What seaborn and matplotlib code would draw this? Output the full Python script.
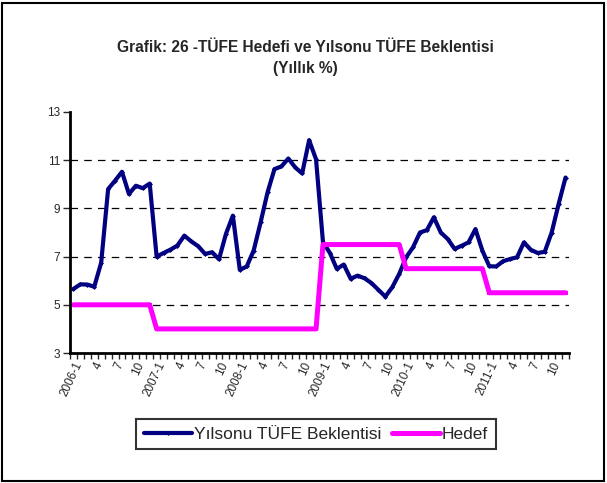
"""TÜFE hedefi ve yılsonu TÜFE beklentisi (yıllık %), 2006-2011."""

import matplotlib
matplotlib.use('Agg')
import matplotlib.pyplot as plt
from matplotlib.patches import Rectangle
import numpy as np
import pandas as pd
import seaborn as sns

years = [2006, 2007, 2008, 2009, 2010, 2011]

# monthly year-end CPI expectation, 2006-1 .. 2011-12
beklenti = [
    5.66, 5.85, 5.84, 5.75, 6.75, 9.80, 10.15, 10.52, 9.60, 9.94, 9.84, 10.03,
    7.00, 7.15, 7.29, 7.46, 7.87, 7.63, 7.43, 7.11, 7.18, 6.89, 7.94, 8.70,
    6.45, 6.59, 7.25, 8.42, 9.66, 10.63, 10.74, 11.07, 10.70, 10.45, 11.83, 11.04,
    7.60, 7.15, 6.49, 6.67, 6.08, 6.21, 6.10, 5.90, 5.62, 5.34, 5.73, 6.28,
    6.97, 7.39, 8.00, 8.10, 8.63, 8.00, 7.73, 7.32, 7.45, 7.59, 8.14, 7.25,
    6.60, 6.59, 6.81, 6.90, 6.97, 7.59, 7.28, 7.15, 7.20, 8.00, 9.18, 10.28,
]
# annual inflation target per year
hedef_yillik = [5.0, 4.0, 4.0, 7.5, 6.5, 5.5]

months = [f"{y}-{m}" for y in years for m in range(1, 13)]
tick_labels = [f"{y}-1" if m == 1 else str(m) for y in years for m in (1, 4, 7, 10)]

df = pd.DataFrame({
    "ay": np.arange(len(months)),
    "Yılsonu TÜFE Beklentisi": beklenti,
    "Hedef": np.repeat(hedef_yillik, 12),
})
long = df.melt(id_vars="ay", var_name="seri", value_name="deger")

sns.set_style("white")
plt.rcParams["font.family"] = ["Liberation Sans", "DejaVu Sans"]

fig = plt.figure(figsize=(6.07, 4.83), dpi=100)
ax = fig.add_axes([70 / 607, 1 - 353 / 483, 499 / 607, 241 / 483])

sns.lineplot(data=long, x="ay", y="deger", hue="seri", style="seri",
             palette={"Yılsonu TÜFE Beklentisi": "#000080", "Hedef": "#FF00FF"},
             markers={"Yılsonu TÜFE Beklentisi": "D", "Hedef": "s"},
             dashes=False, ax=ax, legend=False)
for line, lw in zip(ax.lines, [3.0, 3.6]):
    line.set_linewidth(lw)
    line.set_markersize(2.5)
    line.set_markeredgewidth(0)

ax.set_xlim(-0.5, len(months) - 0.5)
ax.set_ylim(3, 13)
ax.set_yticks([3, 5, 7, 9, 11, 13])
ax.set_xticks(np.arange(0, len(months), 3))
ax.set_xticklabels(tick_labels, rotation=65, ha="right", rotation_mode="anchor", fontsize=8.5)
ax.set_xticks(np.arange(-0.5, len(months)), minor=True)
ax.tick_params(axis="x", which="major", length=0, pad=5)
ax.tick_params(axis="x", which="minor", direction="out", length=4, width=1, bottom=True)
ax.tick_params(axis="y", direction="out", length=5, width=1, left=True, labelsize=8.5, pad=2)
ax.set_xlabel("")
ax.set_ylabel("")

for v in [5, 7, 9, 11]:
    ax.axhline(v, color="black", lw=0.9, ls=(0, (6, 5)), zorder=0)

for s in ["top", "right"]:
    ax.spines[s].set_visible(False)
for s in ["left", "bottom"]:
    ax.spines[s].set_color("black")
    ax.spines[s].set_linewidth(2)

fig.text(0.503, 1 - 48 / 483, "Grafik: 26 -TÜFE Hedefi ve Yılsonu TÜFE Beklentisi",
         ha="center", va="center", fontsize=11.2, fontweight="bold")
fig.text(0.503, 1 - 69 / 483, "(Yıllık %)", ha="center", va="center",
         fontsize=11.2, fontweight="bold")

handles = [
    plt.Line2D([], [], color="#000080", lw=3.0, marker="D", ms=2.5, mew=0),
    plt.Line2D([], [], color="#FF00FF", lw=3.6, marker="s", ms=2.5, mew=0),
]
leg = fig.legend(handles, ["Yılsonu TÜFE Beklentisi", "Hedef"], ncol=2,
                 loc="center", bbox_to_anchor=(316 / 607, 1 - 434 / 483),
                 fontsize=12.5, frameon=True, fancybox=False, handlelength=2.8,
                 handletextpad=0.1, columnspacing=0.6, borderpad=0.45)
leg.get_frame().set_edgecolor("black")
leg.get_frame().set_linewidth(1.5)

fig.add_artist(Rectangle((2 / 607, 2 / 483), 602 / 607, 478 / 483,
                         transform=fig.transFigure, fill=False, lw=1.5, ec="black"))

fig.savefig("out.png", dpi=100)
